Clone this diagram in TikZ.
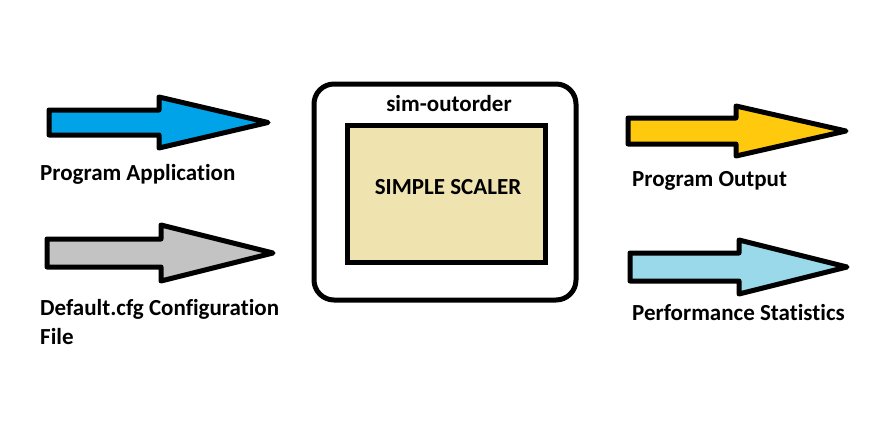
\documentclass[tikz,border=0pt]{standalone}
\usepackage{fontspec}
\setmainfont{Carlito}[Ligatures=NoCommon]
\usetikzlibrary{positioning}

\definecolor{paintblue}{RGB}{0,162,232}
\definecolor{paintgray}{RGB}{195,195,195}
\definecolor{paintyellow}{RGB}{255,201,14}
\definecolor{paintsky}{RGB}{153,217,234}
\definecolor{paintkhaki}{RGB}{239,228,176}

\tikzset{
	arrowline/.style={draw=black, line width=5pt, line join=round},
	label/.style={font=\fontsize{23}{29}\selectfont\bfseries, inner sep=0pt, anchor=base west},
	boxline/.style={draw=black, line width=5pt}
}

% colour, left, centre y, neck, tip, shaft half, head half
\newcommand{\fatarrow}[7]{%
	\draw[arrowline, fill=#1] (#2,#3-#6) -- (#4,#3-#6) -- (#4,#3-#7) -- (#5,#3)
		-- (#4,#3+#7) -- (#4,#3+#6) -- (#2,#3+#6) -- cycle;}

\begin{document}
\begin{tikzpicture}[x=1pt, y=-1pt]
	\useasboundingbox (0,0) rectangle (885,423);

	\node[boxline, rounded corners=20pt, minimum width=262pt, minimum height=216pt] (outer) at (445,192) {};
	\node[boxline, fill=paintkhaki, minimum width=198pt, minimum height=137pt] (sim) at (446,193.5) {};
	\node[label, anchor=center] (simname) at (449,104) {sim-outorder};
	\node[label, anchor=center] (simtext) at (448,187) {SIMPLE SCALER};

	\fatarrow{paintblue}{49}{122.5}{159}{268}{12.5}{25.5}
	\fatarrow{paintgray}{47}{253}{161}{273}{14}{28}
	\fatarrow{paintyellow}{628}{131}{736}{846}{13}{25}
	\fatarrow{paintsky}{630}{267}{739}{847}{14}{27}

	\node[label] (app) at (40,180) {Program Application};
	\node[label] (cfg) at (40,315) {Default.cfg Configuration};
	\node[label] (cfgfile) at (40,344) {File};
	\node[label] (output) at (632,186) {Program Output};
	\node[label] (stats) at (632,320) {Performance Statistics};
\end{tikzpicture}
\end{document}
